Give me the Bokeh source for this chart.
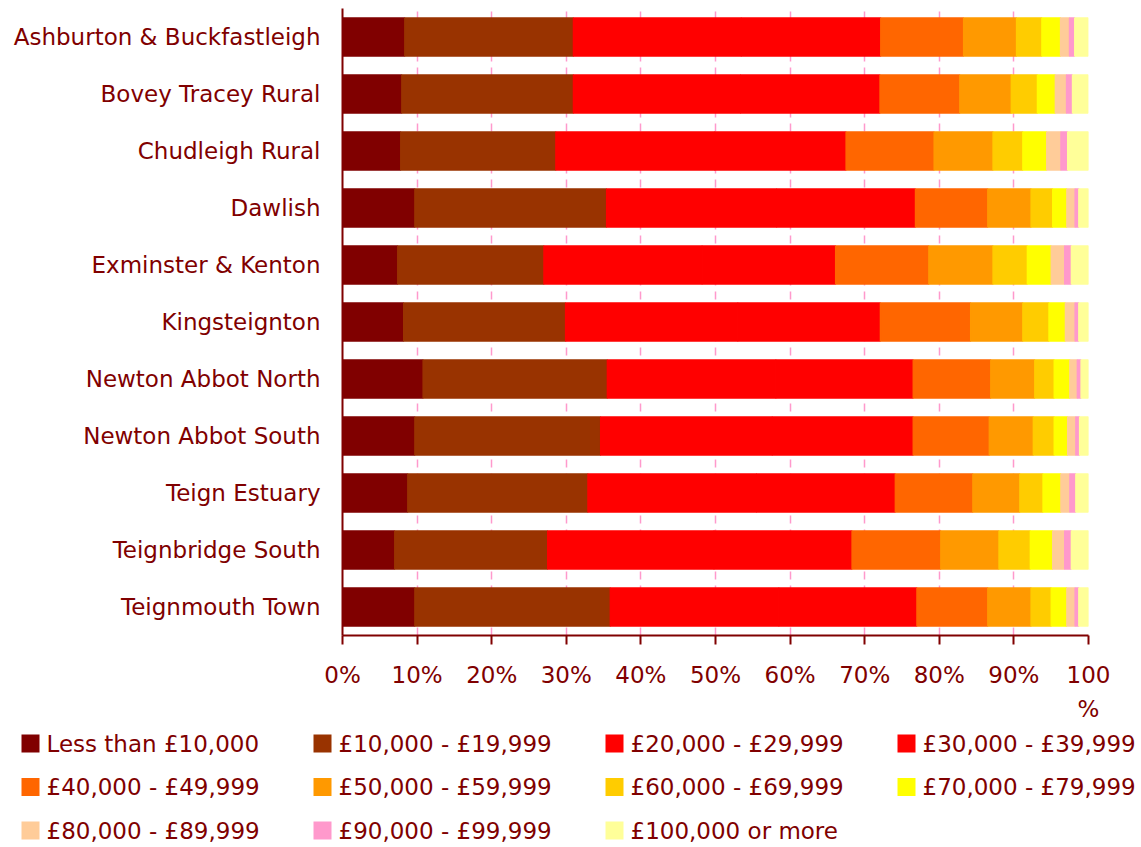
from bokeh.plotting import figure
from bokeh.models import (ColumnDataSource, FactorRange, Range1d, FixedTicker)
from bokeh.core.properties import value
from bokeh.embed import file_html
from bokeh.resources import INLINE

categories = ["Ashburton & Buckfastleigh", "Bovey Tracey Rural", "Chudleigh Rural",
              "Dawlish", "Exminster & Kenton", "Kingsteignton", "Newton Abbot North",
              "Newton Abbot South", "Teign Estuary", "Teignbridge South", "Teignmouth Town"]

band_labels = ["Less than £10,000", "£10,000 - £19,999", "£20,000 - £29,999",
               "£30,000 - £39,999", "£40,000 - £49,999", "£50,000 - £59,999",
               "£60,000 - £69,999", "£70,000 - £79,999", "£80,000 - £89,999",
               "£90,000 - £99,999", "£100,000 or more"]

band_colors = ["#800000", "#993300", "#FF0000", "#FF0000", "#FF6600", "#FF9900",
               "#FFCC00", "#FFFF00", "#FFCC99", "#FF99CC", "#FFFF99"]

less_10k = [8.35, 7.95, 7.8, 9.7, 7.4, 8.2, 10.8, 9.7, 8.75, 7.0, 9.7]
k10_20 = [22.6, 23.0, 20.8, 25.7, 19.6, 21.7, 24.7, 24.9, 24.15, 20.5, 26.2]
k20_30 = [22.5, 22.4, 21.3, 22.8, 21.2, 23.1, 22.6, 23.0, 22.6, 22.3, 22.6]
k30_40 = [18.7, 18.7, 17.6, 18.6, 17.9, 19.1, 18.4, 18.9, 18.6, 18.5, 18.5]
k40_50 = [11.1, 10.7, 11.8, 9.7, 12.5, 12.1, 10.4, 10.2, 10.4, 11.9, 9.5]
k50_60 = [7.1, 6.9, 7.9, 5.8, 8.6, 7.0, 5.9, 5.9, 6.3, 7.8, 5.8]
k60_70 = [3.4, 3.5, 4.0, 2.9, 4.6, 3.5, 2.6, 2.8, 3.1, 4.2, 2.7]
k70_80 = [2.5, 2.4, 3.2, 1.9, 3.2, 2.2, 2.1, 1.8, 2.4, 3.0, 2.1]
k80_90 = [1.2, 1.5, 1.9, 1.1, 1.8, 1.3, 1.0, 1.1, 1.2, 1.6, 1.1]
k90_100 = [0.7, 0.8, 0.9, 0.5, 0.9, 0.5, 0.5, 0.5, 0.8, 0.9, 0.5]
k100_plus = [1.8, 2.1, 2.8, 1.3, 2.3, 1.3, 1.0, 1.2, 1.7, 2.3, 1.3]

x_ticks = [0, 10, 20, 30, 40, 50, 60, 70, 80, 90, 100]
x_tick_labels = ["0%", "10%", "20%", "30%", "40%", "50%", "60%", "70%", "80%", "90%", "100\n%"]

series = [less_10k, k10_20, k20_30, k30_40, k40_50, k50_60, k60_70, k70_80,
          k80_90, k90_100, k100_plus]
keys = ["s%d" % i for i in range(len(series))]
data = {"cat": categories}
for k, s in zip(keys, series):
    data[k] = s
source = ColumnDataSource(data)

FONT = "DejaVu Sans"
TXT = "#800000"
W = 1140

p = figure(width=W, height=730, output_backend="svg", toolbar_location=None,
           y_range=FactorRange(factors=categories[::-1]), x_range=Range1d(0, 100),
           min_border_left=342, min_border_right=52, min_border_top=8,
           min_border_bottom=95)
p.outline_line_color = None

p.hbar_stack(keys, y="cat", height=0.67, color=band_colors,
             line_color=band_colors, line_width=1.3, source=source)

p.xaxis.ticker = FixedTicker(ticks=x_ticks)
p.xaxis.major_label_overrides = {t: l for t, l in zip(x_ticks, x_tick_labels)}
p.xaxis.major_label_text_font = FONT
p.xaxis.major_label_text_font_size = "23px"
p.xaxis.major_label_text_color = TXT
p.xaxis.major_label_text_line_height = 1.33
p.xaxis.major_label_standoff = 17
p.xaxis.axis_line_color = TXT
p.xaxis.axis_line_width = 2
p.xaxis.major_tick_line_color = TXT
p.xaxis.major_tick_line_width = 2
p.xaxis.major_tick_out = 9
p.xaxis.major_tick_in = 0
p.xaxis.minor_tick_line_color = None

p.yaxis.major_label_text_font = FONT
p.yaxis.major_label_text_font_size = "23px"
p.yaxis.major_label_text_color = TXT
p.yaxis.major_label_standoff = 16
p.yaxis.axis_line_color = TXT
p.yaxis.axis_line_width = 2
p.yaxis.major_tick_line_color = None
p.yaxis.minor_tick_line_color = None

p.ygrid.grid_line_color = None
p.xgrid.ticker = FixedTicker(ticks=x_ticks[1:])
p.xgrid.grid_line_color = "#FF99CC"
p.xgrid.grid_line_width = 1.5
p.xgrid.grid_line_dash = "8 6"

# legend panel (4 columns x 3 rows), a separate root below the chart
ncols = 4
col_pitch, row_pitch = 292, 43.5
x0, y0, sw = 21, 13, 18
leg_sq_x = [x0 + sw / 2 + col_pitch * (i % ncols) for i in range(len(band_labels))]
leg_txt_x = [x0 + sw + 7 + col_pitch * (i % ncols) for i in range(len(band_labels))]
leg_y = [y0 + row_pitch * (i // ncols) for i in range(len(band_labels))]
leg = ColumnDataSource(dict(sx=leg_sq_x, tx=leg_txt_x, y=leg_y,
                            label=band_labels, color=band_colors))

q = figure(width=W, height=116, output_backend="svg", toolbar_location=None,
           x_range=Range1d(0, W), y_range=Range1d(116, 0),
           min_border_left=0, min_border_right=0, min_border_top=0, min_border_bottom=0)
q.axis.visible = False
q.grid.visible = False
q.outline_line_color = None
q.rect(x="sx", y="y", width=sw, height=sw, width_units="screen", height_units="screen",
       fill_color="color", line_color=None, source=leg)
q.text(x="tx", y="y", text="label", source=leg, text_font=value(FONT),
       text_font_size="23px", text_color=TXT, text_baseline="middle", text_align="left")

open("out.html", "w").write(file_html([p, q], INLINE))
